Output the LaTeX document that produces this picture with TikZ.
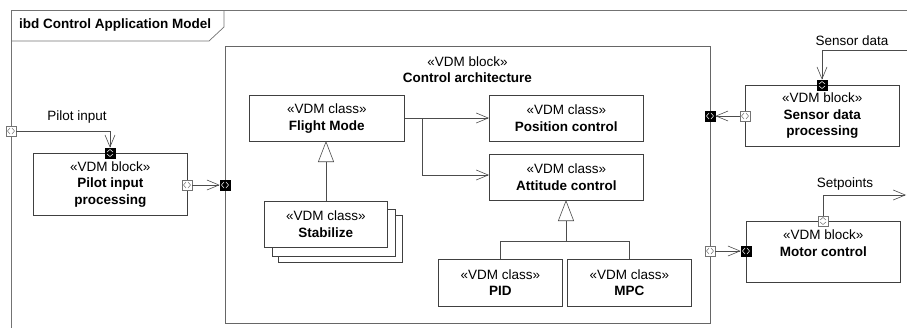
\documentclass[tikz,border=0pt]{standalone}
\usepackage{fontspec}
\setmainfont{Liberation Sans}
\usetikzlibrary{arrows.meta}
\begin{document}
\begin{tikzpicture}[x=1pt,y=-1pt,
  every node/.style={font=\fontsize{13.5}{16.5}\selectfont},
  blk/.style={draw=black!75, line width=0.7pt, fill=white, inner sep=0pt, align=center, anchor=north west},
  flow/.style={draw=black!70, line width=0.7pt, -{Straight Barb[length=12pt,width=10pt,line width=0.6pt]}},
  gen/.style={draw=black!70, line width=0.7pt, -{Triangle[open,length=21pt,width=16pt,fill=white,line width=0.6pt]}},
  plain/.style={draw=black!70, line width=0.7pt},
  portbase/.style={minimum size=10pt, inner sep=0pt, line width=0.6pt},
  chh/.style={path picture={\draw[#1,line width=0.5pt]
      ([shift={(-1,-3)}]path picture bounding box.center) -- ++(-2.5,3) -- ++(2.5,3)
      ([shift={(1,-3)}]path picture bounding box.center) -- ++(2.5,3) -- ++(-2.5,3);}},
  chv/.style={path picture={\draw[#1,line width=0.5pt]
      ([shift={(-3,-1)}]path picture bounding box.center) -- ++(3,-2.5) -- ++(3,2.5)
      ([shift={(-3,1)}]path picture bounding box.center) -- ++(3,2.5) -- ++(3,-2.5);}},
  pBh/.style={portbase, draw=black, fill=black, chh=white},
  pBv/.style={portbase, draw=black, fill=black, chv=white},
  pWh/.style={portbase, draw=black!55, fill=white, chh=black!55},
  pWv/.style={portbase, draw=black!55, fill=white, chv=black!55},
  lbl/.style={inner sep=0pt}
]
\useasboundingbox (0,0) rectangle (907,327);
\clip (0,0) rectangle (907,327);
% frame
\draw[draw=black!55, line width=0.7pt] (11,340) -- (11,10) -- (920,10);
\draw[draw=black!55, line width=0.7pt] (11,41) -- (209,41) -- (224,27) -- (224,10);
\node[lbl, font=\fontsize{13.5}{16.5}\selectfont\bfseries, anchor=west] (title) at (19,25) {ibd Control Application Model};

% control architecture block
\node[blk, draw=black!60, minimum width=485pt, minimum height=277pt] (ca) at (225,46) {};
\node[lbl] (cast) at (467.5,62) {«VDM block»};
\node[lbl, font=\fontsize{13.5}{16.5}\selectfont\bfseries] (caname) at (467.5,78) {Control architecture};

% outer blocks
\node[blk, minimum width=154pt, minimum height=62pt] (pip) at (33,153) {};
\node[align=center] at (pip.center) {«VDM block»\\\textbf{Pilot input}\\\textbf{processing}};
\node[blk, minimum width=154pt, minimum height=61pt] (sdp) at (745,85) {};
\node[align=center] at (sdp.center) {«VDM block»\\\textbf{Sensor data}\\\textbf{processing}};
\node[blk, minimum width=154pt, minimum height=61pt] (mc) at (746,221) {};
\node[align=center] at ([yshift=-22pt]mc.north) {«VDM block»\\\textbf{Motor control}};

% inner classes
\node[blk, minimum width=155pt, minimum height=46pt] (fm) at (249,95) {};
\node[align=center] at (fm.center) {«VDM class»\\\textbf{Flight Mode}};
\node[blk, minimum width=154pt, minimum height=46pt] (pc) at (489,95) {};
\node[align=center] at (pc.center) {«VDM class»\\\textbf{Position control}};
\node[blk, minimum width=154pt, minimum height=46pt] (ac) at (489,154) {};
\node[align=center] at (ac.center) {«VDM class»\\\textbf{Attitude control}};
\node[blk, minimum width=124pt, minimum height=47pt] (st3) at (278,215) {};
\node[blk, minimum width=123pt, minimum height=47pt] (st2) at (272,209) {};
\node[blk, minimum width=123pt, minimum height=46pt] (st) at (264,201) {};
\node[align=center] at (st.center) {«VDM class»\\\textbf{Stabilize}};
\node[blk, minimum width=124pt, minimum height=47pt] (pid) at (438,259) {};
\node[align=center] at (pid.center) {«VDM class»\\\textbf{PID}};
\node[blk, minimum width=124pt, minimum height=47pt] (mpc) at (567,259) {};
\node[align=center] at (mpc.center) {«VDM class»\\\textbf{MPC}};

% ports
\node[pWh] (fp) at (11,131) {};
\node[pBv] (pipT) at (110,153) {};
\node[pWh] (pipR) at (187,185) {};
\node[pBh] (caL) at (225,185) {};
\node[pBh] (caR1) at (710,116) {};
\node[pWh] (caR2) at (710,251) {};
\node[pWh] (sdpL) at (745,116) {};
\node[pBv] (sdpT) at (822,85) {};
\node[pBh] (mcL) at (746,251) {};
\node[pWv] (mcT) at (823,221) {};

% connectors
\draw[flow] (fp.east) -| (pipT.north);
\node[lbl] (pil) at (77,117) {Pilot input};
\draw[flow] (pipR.east) -- (caL.west);
\draw[flow] (sdpL.west) -- (caR1.east);
\coordinate (sdin) at (912,50);
\draw[flow] (sdin) -| (sdpT.north);
\node[lbl] (sdl) at (852,41) {Sensor data};
\draw[flow] (caR2.east) -- (mcL.west);
\coordinate (spout) at (906,195);
\draw[flow] (mcT.north) |- (spout);
\node[lbl] (spl) at (845,184) {Setpoints};

\draw[flow] (fm.east |- 0,118) -- (pc.west |- 0,118);
\coordinate (br) at (422,118);
\draw[flow] (br) |- (ac.west |- 0,175);
\draw[gen] (326,201) -- (326,141);
\coordinate (j) at (566,241);
\draw[gen] (j) -- (566,200);
\draw[plain] (pid.north -| 500,0) |- (j);
\draw[plain] (mpc.north -| 629,0) |- (j);
\end{tikzpicture}
\end{document}
